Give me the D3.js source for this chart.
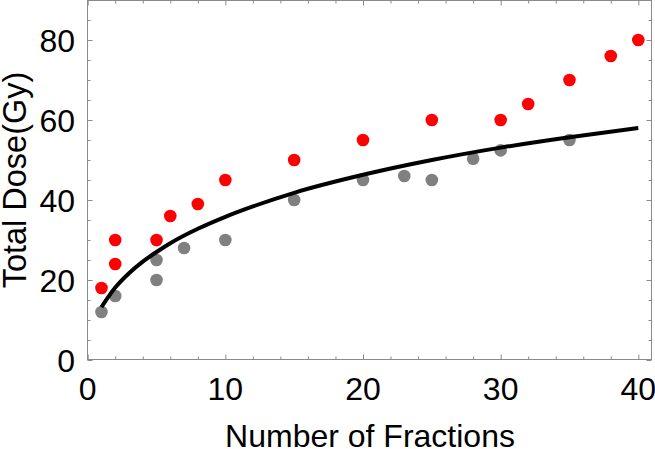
<!DOCTYPE html>
<html>
<head>
<meta charset="utf-8">
<script src="https://cdn.jsdelivr.net/npm/d3@7"></script>
<style>
  html, body { margin: 0; padding: 0; background: #fff; }
  svg { display: block; font-family: "Liberation Sans", Arial, sans-serif; }
</style>
</head>
<body>
<svg id="chart" width="655" height="449"></svg>
<script>
// Red series (Total dose vs number of fractions)
const redX = [1, 2, 2, 5, 6, 8, 10, 15, 20, 25, 30, 32, 35, 38, 40];
const redY = [18, 24, 30, 30, 36, 39, 45, 50, 55, 60, 60, 64, 70, 76, 80];
// Gray series
const grayX = [1, 2, 5, 5, 7, 10, 15, 20, 23, 25, 28, 30, 35];
const grayY = [12, 16, 20, 25, 28, 30, 40, 45, 46, 45, 50.3, 52.4, 55];
// Black curve, values
const curveX = [1, 2, 3, 4, 5, 6, 8, 10, 12, 15, 20, 25, 30, 35, 40];
const curveY = [13.2, 18.1, 21.7, 24.6, 27.0, 29.2, 32.8, 35.8, 38.4, 41.8, 46.3, 50.0, 53.1, 55.7, 58.0];
// Ticks
const xMajor = [0, 10, 20, 30, 40];
const xMinor = [2, 4, 6, 8, 12, 14, 16, 18, 22, 24, 26, 28, 32, 34, 36, 38];
const yMajor = [0, 20, 40, 60, 80];
const yMinor = [5, 10, 15, 25, 30, 35, 45, 50, 55, 65, 70, 75, 85];

const svg = d3.select("#chart");
const L = 87.5, R = 651.5, T = 0.5, B = 359.5;
const x = d3.scaleLinear().domain([0, 41]).range([L + 0.2, L + 0.2 + 41 * 13.765]);
const y = d3.scaleLinear().domain([0, 90]).range([360, 0]);

const frameColor = "#8a8a8a";

// Frame
svg.append("rect")
  .attr("x", L).attr("y", T).attr("width", R - L).attr("height", B - T)
  .attr("fill", "none").attr("stroke", frameColor).attr("stroke-width", 1);

// Axes with inward ticks
function addAxis(axisFn, scale, vals, size, transform) {
  const g = svg.append("g").attr("transform", transform)
    .call(axisFn(scale).tickValues(vals).tickSize(size).tickFormat(""));
  g.select(".domain").remove();
  g.selectAll(".tick line").attr("stroke", frameColor);
  g.selectAll("text").remove();
  return g;
}
// bottom (ticks up)
addAxis(d3.axisTop, x, xMajor, 5, `translate(0,${B})`);
addAxis(d3.axisTop, x, xMinor, 3, `translate(0,${B})`);
// top (ticks down)
addAxis(d3.axisBottom, x, xMajor, 5, `translate(0,${T})`);
addAxis(d3.axisBottom, x, xMinor, 3, `translate(0,${T})`);
// left (ticks right)
addAxis(d3.axisRight, y, yMajor, 5, `translate(${L},0)`);
addAxis(d3.axisRight, y, yMinor, 3, `translate(${L},0)`);
// right (ticks left)
addAxis(d3.axisLeft, y, yMajor, 5, `translate(${R},0)`);
addAxis(d3.axisLeft, y, yMinor, 3, `translate(${R},0)`);

// Tick labels
svg.append("g").selectAll("text").data(xMajor).join("text")
  .attr("x", d => x(d)).attr("y", 400)
  .attr("text-anchor", "middle").attr("font-size", 32).attr("fill", "#000")
  .text(d => d);
svg.append("g").selectAll("text").data(yMajor).join("text")
  .attr("x", 75).attr("y", d => y(d) + 11.5)
  .attr("text-anchor", "end").attr("font-size", 32).attr("fill", "#000")
  .text(d => d);

// Axis titles
svg.append("text").attr("x", 370).attr("y", 446.5)
  .attr("text-anchor", "middle").attr("font-size", 32).attr("fill", "#000")
  .text("Number of Fractions");
svg.append("text")
  .attr("transform", "translate(25.5,180) rotate(-90)")
  .attr("text-anchor", "middle").attr("font-size", 32.5).attr("fill", "#000")
  .text("Total Dose(Gy)");

// Points
const red = redX.map((v, i) => [v, redY[i]]);
const gray = grayX.map((v, i) => [v, grayY[i]]);
svg.append("g").selectAll("circle").data(gray).join("circle")
  .attr("cx", d => x(d[0])).attr("cy", d => y(d[1])).attr("r", 6.3)
  .attr("fill", "#808080");
svg.append("g").selectAll("circle").data(red).join("circle")
  .attr("cx", d => x(d[0])).attr("cy", d => y(d[1])).attr("r", 6.3)
  .attr("fill", "#ff0000");

// Curve
const curve = curveX.map((v, i) => [v, curveY[i]]);
svg.append("path").datum(curve)
  .attr("d", d3.line().x(d => x(d[0])).y(d => y(d[1])).curve(d3.curveMonotoneX))
  .attr("fill", "none").attr("stroke", "#000").attr("stroke-width", 4)
  .attr("stroke-linecap", "butt");
</script>
</body>
</html>
